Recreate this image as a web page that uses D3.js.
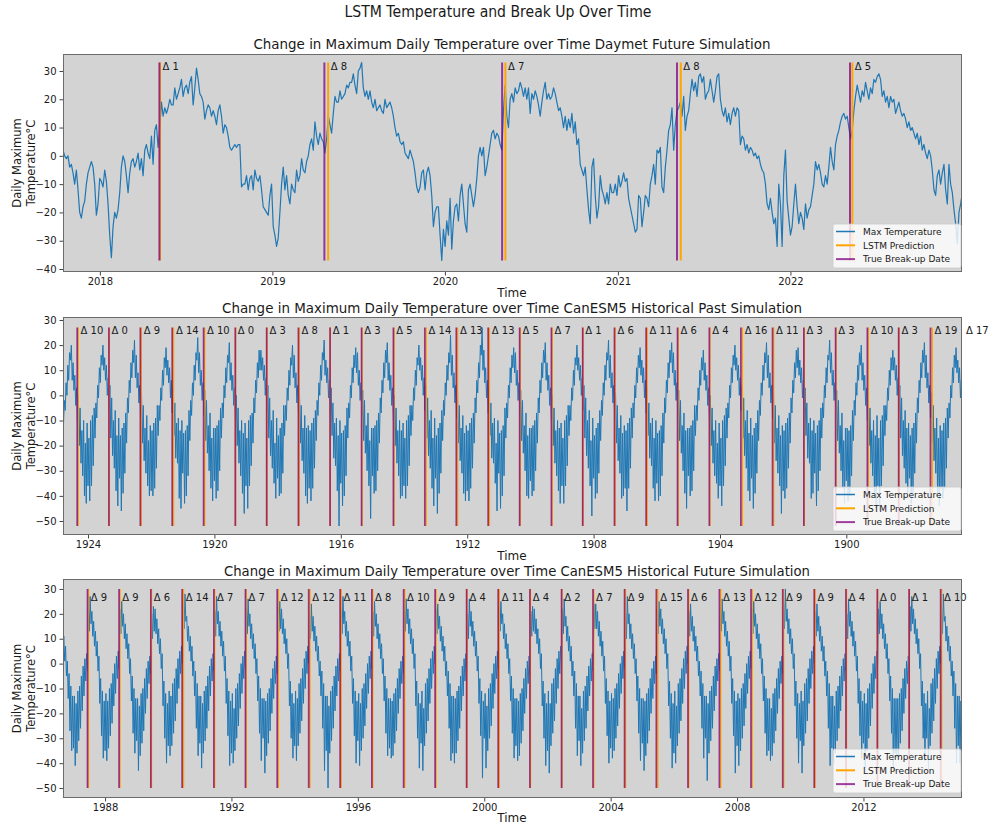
<!DOCTYPE html>
<html><head><meta charset="utf-8">
<script src="https://cdn.jsdelivr.net/npm/d3@7"></script>
<style>body{margin:0;background:#fff}</style>
</head><body>
<svg id="c" width="990" height="825"></svg>
<script>
// ---------------- DATA ----------------
const mainTitle = "LSTM Temperature and Break Up Over Time";
const panelTitles = [
  "Change in Maximum Daily Temperature over Time Daymet Future Simulation",
  "Change in Maximum Daily Temperature over Time CanESM5 Historical Past Simulation",
  "Change in Maximum Daily Temperature over Time CanESM5 Historical Future Simulation"
];
const legendLabels = ["Max Temperature", "LSTM Prediction", "True Break-up Date"];

// Panel 1: Daymet future, one value every 3.53 days from 2017-10-15
const daymetStart = "2017-10-15";
const daymetStepDays = 3.53;
const daymetTemps = [
2,0,-1,0,-4,-3,-6,-10,-5,-12,
-20,-22,-18,-16,-10,-6,-4,-2,-4,-10,
-21,-17,-8,-9,-11,-5,-9,-17,-28,-36,
-25,-20,-22,-19,-13,-4,0,-2,-7,-13,
-6,-2,-1,-4,-2,1,-5,-1,-7,2,
4,1,-1,7,-3,9,11,3,10,19,
14,17,15,17,20,18,18,24,20,22,
24,27,21,24,25,22,26,28,18,24,
31,27,22,21,19,13,16,18,17,14,
16,14,11,16,18,14,8,11,10,7,
3,2,3,4,3,4,4,-11,-10,-10,
-7,-12,-8,-7,-12,-5,-8,-9,-7,-12,
-18,-19,-20,-21,-14,-10,-25,-28,-32,-29,
-20,-10,-4,-12,-7,-14,-17,-10,-12,-13,
-5,-9,-7,-1,-5,-6,-2,0,4,6,
2,12,7,4,8,6,5,1,6,14,
11,8,15,21,19,19,23,20,21,22,
25,24,26,26,29,25,22,30,31,33,
24,21,23,20,23,19,17,20,16,17,
18,16,15,20,17,18,19,17,14,10,
7,8,5,4,5,1,0,-1,2,0,
-2,-6,-11,-13,-11,-6,-5,-12,-6,-4,
-7,-14,-25,-20,-18,-18,-28,-37,-26,-32,
-23,-28,-15,-33,-23,-18,-17,-23,-14,-10,
-17,-24,-27,-12,-10,-14,-18,-14,-8,0,
3,0,3,-7,-4,0,4,8,9,6,
8,7,
4,2,16,25,14,10,20,22,19,24,
22,23,26,24,21,24,20,24,15,22,
20,23,21,18,14,19,23,26,20,22,
20,21,24,22,19,16,17,14,10,14,
9,13,10,15,8,12,4,6,-3,-5,
-7,-4,-12,-19,-24,-4,-1,-14,-22,-18,
-7,-12,-14,-17,-13,-17,-10,-13,-13,-10,
-14,-7,-11,-9,-6,-9,-8,-15,-18,-21,
-24,-27,-26,-14,-15,-25,-20,-14,-15,-18,
-10,-7,-3,-10,2,1,3,-11,-13,-4,
2,9,11,17,2,11,16,17,19,14,
21,9,14,16,22,27,23,26,21,28,
29,26,28,20,22,23,27,23,19,23,
28,29,20,16,14,17,12,15,11,15,
17,14,17,16,4,7,6,2,4,1,
3,2,0,1,-1,0,-3,-5,-6,-10,
-17,-19,-15,-20,-24,-22,-32,-10,-17,-32,
-7,2,-16,-22,-28,-25,-17,-10,-18,-24,
-20,-22,-26,-17,-22,-19,-18,-14,-10,-2,
-5,-3,-6,-10,-11,-7,-10,-4,3,-2,
-5,4,7,9,12,14,15,13,14,10,
6,9,16,21,25,22,19,23,21,26,
23,20,24,22,27,26,28,29,27,21,
23,19,21,17,21,19,20,15,17,19,
16,14,15,13,10,12,9,10,8,6,
8,4,7,2,4,1,-1,2,0,-5,
-12,-14,-7,-5,-10,-6,-3,-12,-17,-3,
-10,-13,-19,-24,-31,-20,-17,-13
];
const daymetTrue = ["2018-05-07","2019-04-21","2020-05-01","2021-05-06","2022-05-07"];
const daymetPred = ["2018-05-08","2019-04-29","2020-05-08","2021-05-14","2022-05-12"];
const daymetTickYears = [2018, 2019, 2020, 2021, 2022];
const daymetXLimits = ["2017-10-15", "2022-12-30"];
const daymetYLimits = [-41.06, 36.0];

// Panel 2: CanESM5 historical past, 36 values per year (every 10.14 days) from 1896-01-01
const pastStartYear = 1896;
const pastPerYear = 36;
const pastStepDays = 10.14;
const pastTemps = [
-32,-9,-40,-14,-36,-7,-28,-11,-22,-2,-16,3,-7,6,-1,11,5,14,9,19,11,16,5,11,-1,4,-9,-3,-17,-5,-29,-9,-37,-11,-41,-14,
-37,-12,-44,-17,-39,-9,-31,-13,-26,-4,-19,1,-9,4,-3,9,3,16,7,21,13,18,7,13,1,6,-7,-1,-19,-7,-31,-11,-39,-13,-43,-16,
-33,-11,-41,-13,-35,-6,-29,-10,-24,-1,-17,4,-6,7,0,12,6,15,10,18,10,15,4,10,-2,3,-10,-4,-16,-4,-28,-8,-36,-10,-46,-17,
-36,-8,-45,-16,-40,-10,-32,-14,-27,-5,-20,0,-10,3,-4,8,2,13,6,20,12,17,6,12,0,5,-8,-2,-18,-6,-32,-12,-40,-14,-42,-13,
-34,-13,-43,-18,-37,-7,-30,-12,-23,-2,-18,2,-8,5,-2,10,4,17,9,22,14,16,5,11,-1,4,-9,-3,-17,-5,-30,-10,-38,-12,-44,-15,
-31,-10,-39,-14,-41,-9,-27,-11,-25,-3,-16,3,-7,6,-1,11,5,14,8,19,11,18,7,13,1,6,-7,-1,-19,-7,-29,-9,-37,-11,-41,-14,
-38,-12,-47,-16,-36,-8,-31,-13,-26,-4,-19,1,-9,4,-3,9,3,16,7,21,13,17,6,12,0,5,-8,-2,-18,-6,-31,-11,-39,-13,-45,-16,
-33,-9,-42,-15,-38,-6,-29,-10,-24,-1,-17,4,-6,7,0,12,6,15,10,20,12,16,5,11,-1,4,-9,-3,-17,-5,-28,-8,-36,-10,-44,-17,
-36,-11,-41,-19,-35,-10,-32,-14,-27,-5,-20,0,-10,3,-4,8,2,13,6,18,10,15,4,10,-2,3,-10,-4,-16,-4,-30,-10,-38,-12,-40,-13,
-32,-13,-45,-14,-39,-7,-30,-12,-23,-2,-18,2,-8,5,-2,10,4,17,9,21,13,18,7,13,1,6,-7,-1,-19,-7,-32,-12,-40,-14,-42,-15,
-35,-10,-42,-17,-37,-9,-28,-11,-25,-3,-16,3,-7,6,-1,11,5,14,8,19,11,16,5,11,-1,4,-9,-3,-17,-5,-29,-9,-37,-11,-46,-14,
-37,-12,-40,-15,-41,-8,-31,-13,-26,-4,-19,1,-9,4,-3,9,3,16,7,22,14,17,6,12,0,5,-8,-2,-18,-6,-31,-11,-39,-13,-41,-16,
-33,-9,-48,-18,-36,-6,-29,-10,-24,-1,-17,4,-6,7,0,12,6,15,10,20,12,15,4,10,-2,3,-10,-4,-16,-4,-28,-8,-36,-10,-43,-17,
-36,-11,-43,-13,-38,-10,-32,-14,-27,-5,-20,0,-10,3,-4,8,2,13,6,21,13,18,7,13,1,6,-7,-1,-19,-7,-30,-10,-38,-12,-40,-13,
-34,-13,-41,-16,-40,-7,-30,-12,-23,-2,-18,2,-8,5,-2,10,4,17,9,19,11,16,5,11,-1,4,-9,-3,-17,-5,-32,-12,-40,-14,-45,-15,
-31,-10,-46,-19,-35,-9,-27,-11,-25,-3,-16,3,-7,6,-1,11,5,18,10,27,16,20,7,13,1,6,-7,-1,-19,-7,-29,-9,-37,-11,-42,-14,
-38,-12,-42,-15,-39,-8,-31,-13,-26,-4,-19,1,-9,4,-3,9,3,16,8,24,13,17,6,12,0,5,-8,-2,-18,-6,-31,-11,-39,-13,-47,-16,
-33,-9,-44,-17,-37,-6,-29,-10,-24,-1,-17,4,-6,7,0,12,6,15,10,20,12,15,4,10,-2,3,-10,-4,-16,-4,-28,-8,-36,-10,-41,-17,
-36,-11,-40,-14,-41,-10,-32,-14,-27,-5,-20,0,-10,3,-4,8,2,13,6,21,13,18,7,13,1,6,-7,-1,-19,-7,-30,-10,-38,-12,-39,-13,
-32,-13,-49,-18,-36,-7,-30,-12,-23,-2,-18,2,-8,5,-2,10,4,17,9,19,11,16,5,11,-1,4,-9,-3,-17,-5,-32,-12,-40,-14,-44,-15,
-35,-10,-52,-16,-38,-9,-28,-11,-25,-3,-16,3,-7,6,-1,11,5,14,8,22,14,17,6,12,0,5,-8,-2,-18,-6,-29,-9,-37,-11,-42,-14,
-37,-12,-43,-13,-40,-8,-31,-13,-26,-4,-19,1,-9,4,-3,9,3,16,7,20,12,15,4,10,-2,3,-10,-4,-16,-4,-31,-11,-39,-13,-40,-16,
-33,-9,-41,-19,-35,-6,-29,-10,-24,-1,-17,4,-6,7,0,12,6,15,10,18,10,18,7,13,1,6,-7,-1,-19,-7,-28,-8,-36,-10,-45,-17,
-36,-11,-47,-15,-39,-10,-32,-14,-27,-5,-20,0,-10,3,-4,8,2,13,6,21,13,16,5,11,-1,4,-9,-3,-17,-5,-30,-10,-38,-12,-41,-13,
-34,-13,-42,-17,-37,-7,-30,-12,-23,-2,-18,2,-8,5,-2,10,4,17,9,23,14,17,6,12,0,5,-8,-2,-18,-6,-32,-12,-40,-14,-43,-15,
-31,-10,-45,-14,-41,-9,-27,-11,-25,-3,-16,3,-7,6,-1,11,5,14,8,19,11,15,4,10,-2,3,-10,-4,-16,-4,-29,-9,-37,-11,-40,-14,
-38,-12,-40,-18,-36,-8,-31,-13,-26,-4,-19,1,-9,4,-3,9,3,16,7,22,13,18,7,13,1,6,-7,-1,-19,-7,-31,-11,-39,-13,-46,-16,
-33,-9,-44,-16,-38,-6,-29,-10,-24,-1,-17,4,-6,7,0,12,6,15,10,20,12,16,5,11,-1,4,-9,-3,-17,-5,-28,-8,-36,-10,-42,-17,
-36,-11,-43,-19,-40,-10,-32,-14,-27,-5,-20,0,-10,3,-4,8,2,13,6,20,14,17,6,12,0,5,-6,-2,-12,-6,-20,-10,-30,-12,-35,-13
];
const pastTrue = ["1896-05-05","1897-05-04","1898-05-06","1899-05-03","1900-05-05","1901-05-07","1902-05-04","1903-05-05","1904-05-03","1905-05-06","1906-05-04","1907-05-05","1908-05-06","1909-05-03","1910-05-05","1911-05-04","1912-05-06","1913-05-05","1914-05-03","1915-05-06","1916-05-04","1917-05-05","1918-05-07","1919-05-04","1920-05-05","1921-05-03","1922-05-06","1923-05-04","1924-05-05"];
const pastPred = ["1896-04-18","1897-04-15","1898-05-03","1899-04-23","1900-05-02","1901-05-04","1902-04-23","1903-04-19","1904-04-29","1905-04-30","1906-04-23","1907-04-29","1908-05-05","1909-04-26","1910-04-30","1911-04-21","1912-04-23","1913-04-21","1914-04-28","1915-05-03","1916-05-03","1917-04-27","1918-05-04","1919-05-04","1920-04-25","1921-04-19","1922-04-27","1923-05-04","1924-04-25"];
const pastTickYears = [1924, 1920, 1916, 1912, 1908, 1904, 1900];
const pastXLimits = ["1924-10-16", "1896-05-04"];
const pastYLimits = [-55.57, 31.19];

// Panel 3: CanESM5 historical future, 36 values per year (every 10.14 days) from 1986-01-01
const futStartYear = 1986;
const futPerYear = 36;
const futStepDays = 10.14;
const futTemps = [
-30,-11,-38,-14,-33,-9,-28,-7,-23,-3,-16,1,-11,4,-5,6,-1,21,11,24,14,19,9,15,5,11,1,7,-5,1,-14,-4,-27,-9,-35,-13,
-34,-13,-41,-16,-36,-11,-31,-9,-26,-5,-19,-1,-13,2,-7,4,-3,23,13,27,16,21,11,17,7,13,3,9,-3,3,-16,-6,-29,-11,-38,-15,
-35,-12,-39,-15,-34,-10,-29,-8,-24,-4,-17,0,-12,3,-6,5,-2,22,12,25,15,20,10,16,6,12,2,8,-4,2,-15,-5,-28,-10,-36,-14,
-31,-14,-43,-17,-37,-12,-32,-10,-27,-6,-20,-2,-14,1,-8,3,-4,20,10,23,13,22,12,18,8,14,4,10,-2,4,-17,-7,-30,-12,-40,-16,
-33,-11,-37,-13,-33,-8,-28,-6,-23,-2,-16,2,-10,5,-4,7,0,24,14,28,17,19,9,15,5,11,1,7,-5,1,-13,-3,-26,-8,-37,-13,
-32,-13,-42,-16,-36,-11,-31,-9,-26,-5,-19,-1,-13,2,-7,4,-3,21,11,27,16,21,11,17,7,13,3,9,-3,3,-16,-6,-29,-11,-41,-15,
-36,-12,-40,-18,-35,-10,-30,-8,-25,-4,-18,0,-12,3,-6,5,-2,22,12,26,15,20,10,16,6,12,2,8,-4,2,-15,-5,-28,-10,-39,-14,
-30,-14,-44,-15,-37,-12,-32,-10,-27,-6,-20,-2,-14,1,-8,3,-4,23,13,25,14,22,12,18,8,14,4,10,-2,4,-17,-7,-30,-12,-38,-16,
-33,-11,-39,-14,-33,-8,-28,-6,-23,-2,-16,2,-10,5,-4,7,0,20,10,24,13,19,9,15,5,11,1,7,-5,1,-13,-3,-26,-8,-43,-13,
-35,-13,-50,-17,-36,-11,-31,-9,-26,-5,-19,-1,-13,2,-7,4,-3,22,12,27,16,21,11,17,7,13,3,9,-3,3,-16,-6,-29,-11,-40,-15,
-31,-12,-41,-16,-35,-10,-30,-8,-25,-4,-18,0,-12,3,-6,5,-2,21,11,25,15,20,10,16,6,12,2,8,-4,2,-15,-5,-28,-10,-37,-14,
-34,-14,-38,-15,-37,-12,-32,-10,-27,-6,-20,-2,-14,1,-8,3,-4,23,13,26,16,22,12,18,8,14,4,10,-2,4,-17,-7,-30,-12,-42,-16,
-32,-11,-43,-18,-33,-8,-28,-6,-23,-2,-16,2,-10,5,-4,7,0,22,12,24,14,19,9,15,5,11,1,7,-5,1,-13,-3,-26,-8,-39,-13,
-36,-13,-40,-14,-36,-11,-31,-9,-26,-5,-19,-1,-13,2,-7,4,-3,20,10,26,15,21,11,17,7,13,3,9,-3,3,-16,-6,-29,-11,-46,-15,
-30,-12,-42,-17,-35,-10,-30,-8,-25,-4,-18,0,-12,3,-6,5,-2,23,13,25,16,20,10,16,6,12,2,8,-4,2,-15,-5,-28,-10,-38,-14,
-33,-14,-39,-15,-37,-12,-32,-10,-27,-6,-20,-2,-14,1,-8,3,-4,21,11,23,13,22,12,18,8,14,4,10,-2,4,-17,-7,-30,-12,-41,-16,
-35,-11,-44,-16,-33,-8,-28,-6,-23,-2,-16,2,-10,5,-4,7,0,22,12,26,15,19,9,15,5,11,1,7,-5,1,-13,-3,-26,-8,-37,-13,
-31,-13,-41,-18,-36,-11,-31,-9,-26,-5,-19,-1,-13,2,-7,4,-3,24,14,24,14,21,11,17,7,13,3,9,-3,3,-16,-6,-29,-11,-40,-15,
-34,-12,-38,-14,-35,-10,-30,-8,-25,-4,-18,0,-12,3,-6,5,-2,20,10,27,16,20,10,16,6,12,2,8,-4,2,-15,-5,-28,-10,-39,-14,
-32,-14,-43,-15,-37,-12,-32,-10,-27,-6,-20,-2,-14,1,-8,3,-4,22,12,25,15,22,12,18,8,14,4,10,-2,4,-17,-7,-30,-12,-42,-16,
-36,-11,-40,-17,-33,-8,-28,-6,-23,-2,-16,2,-10,5,-4,7,0,21,11,24,13,19,9,15,5,11,1,7,-5,1,-13,-3,-26,-8,-38,-13,
-30,-13,-47,-16,-36,-11,-31,-9,-26,-5,-19,-1,-13,2,-7,4,-3,23,13,26,16,21,11,17,7,13,3,9,-3,3,-16,-6,-29,-11,-44,-15,
-33,-12,-41,-14,-35,-10,-30,-8,-25,-4,-18,0,-12,3,-6,5,-2,22,12,25,15,20,10,16,6,12,2,8,-4,2,-15,-5,-28,-10,-37,-14,
-35,-14,-39,-18,-37,-12,-32,-10,-27,-6,-20,-2,-14,1,-8,3,-4,24,14,30,17,22,12,18,8,14,4,10,-2,4,-17,-7,-30,-12,-40,-16,
-31,-11,-44,-15,-33,-8,-28,-6,-23,-2,-16,2,-10,5,-4,7,0,21,11,24,13,19,9,15,5,11,1,7,-5,1,-13,-3,-26,-8,-41,-13,
-34,-13,-40,-17,-36,-11,-31,-9,-26,-5,-19,-1,-13,2,-7,4,-3,20,10,26,15,21,11,17,7,13,3,9,-3,3,-16,-6,-29,-11,-38,-15,
-32,-12,-42,-16,-35,-10,-30,-8,-25,-4,-18,0,-12,3,-6,5,-2,22,12,25,14,20,10,16,6,12,2,8,-4,2,-15,-5,-28,-10,-43,-14,
-36,-14,-38,-14,-37,-12,-32,-10,-27,-6,-20,-2,-14,1,-8,3,-4,23,13,27,16,22,12,18,8,14,4,10,-2,4,-17,-7,-30,-12,-39,-16,
-30,-11,-43,-18,-33,-8,-28,-6,-23,-2,-16,2,-10,5,-4,7,0,22,12,28,17,19,9,15,5,11,1,7,-5,1,-13,-3,-26,-8,-40,-13,
-33,-13,-40,-15,-36,-11,-31,-9,-26,-5,-19,-1,-13,2,-7,4,-3,21,11,24,14,21,11,17,7,13,3,9,-3,3,-16,-6,-29,-11,-37,-15
];
const futTrue = ["1987-06-12","1988-06-11","1989-06-13","1990-06-10","1991-06-12","1992-06-11","1993-06-13","1994-06-12","1995-06-10","1996-06-11","1997-06-13","1998-06-12","1999-06-11","2000-06-10","2001-06-12","2002-06-13","2003-06-11","2004-06-10","2005-06-12","2006-06-13","2007-06-11","2008-06-10","2009-06-12","2010-06-11","2011-06-13","2012-06-10","2013-06-12","2014-06-11"];
const futPred = ["1987-06-21","1988-06-20","1989-06-19","1990-06-24","1991-06-19","1992-06-18","1993-06-25","1994-06-24","1995-06-21","1996-06-19","1997-06-23","1998-06-21","1999-06-15","2000-06-21","2001-06-16","2002-06-15","2003-06-18","2004-06-19","2005-06-27","2006-06-19","2007-06-24","2008-06-22","2009-06-21","2010-06-20","2011-06-17","2012-06-10","2013-06-13","2014-06-21"];
const futTickYears = [1988, 1992, 1996, 2000, 2004, 2008, 2012];
const futXLimits = ["1986-09-02", "2015-02-13"];
const futYLimits = [-54.0, 34.0];

const yTicks = {daymet: [30,20,10,0,-10,-20,-30,-40], canesm: [30,20,10,0,-10,-20,-30,-40,-50]};

// ---------------- DRAWING ----------------
const FONT = '"DejaVu Sans", sans-serif';
const C = {blue:"#1f77b4", orange:"#ffa500", purple:"#800080", bg:"#d3d3d3", spine:"#6b6b6b", text:"#1a1a1a"};
const svg = d3.select("#c");
const parse = s => { const [y,m,d] = s.split("-").map(Number); return new Date(Date.UTC(y, m-1, d)); };
const DAY = 86400000;

function txt(g, s, x, y, o={}) {
  const t = g.append("text").attr("x", x).attr("y", y).text(s)
    .attr("font-family", FONT).attr("font-size", o.size || 10)
    .attr("fill", o.fill || C.text).attr("text-anchor", o.anchor || "start");
  if (o.len) t.attr("textLength", o.len).attr("lengthAdjust", "spacingAndGlyphs");
  if (o.rotate) t.attr("transform", `rotate(${o.rotate},${x},${y})`);
  return t;
}

txt(svg, mainTitle, 498, 17, {size:15, anchor:"middle", len:307});

function series(startMs, stepDays, vals) {
  return vals.map((v, i) => ({t: new Date(startMs + i * stepDays * DAY), v}));
}
function yearlySeries(startYear, perYear, stepDays, vals) {
  return vals.map((v, i) => {
    const yr = startYear + Math.floor(i / perYear), k = i % perYear;
    return {t: new Date(Date.UTC(yr, 0, 1) + k * stepDays * DAY), v};
  });
}

function panel(cfg, idx) {
  const g = svg.append("g");
  const L = 63, R = 962, T = cfg.top, B = cfg.bottom;
  const x = d3.scaleUtc().domain(cfg.xlim.map(parse)).range([L, R]);
  const y = d3.scaleLinear().domain(cfg.ylim).range([B, T]);

  g.append("rect").attr("x", L).attr("y", T).attr("width", R-L).attr("height", B-T).attr("fill", C.bg);
  const cid = "clip" + idx;
  g.append("clipPath").attr("id", cid).append("rect").attr("x", L).attr("y", T).attr("width", R-L).attr("height", B-T);
  const pg = g.append("g").attr("clip-path", `url(#${cid})`);

  pg.append("path").datum(cfg.data)
    .attr("d", d3.line().x(d => x(d.t)).y(d => y(d.v)))
    .attr("fill", "none").attr("stroke", C.blue).attr("stroke-width", cfg.lw).attr("stroke-linejoin", "round");

  const ext = d3.extent(cfg.data, d => d.v);
  const trueD = cfg.trueDates.map(parse), predD = cfg.predDates.map(parse);
  pg.selectAll(".pred").data(predD).join("line")
    .attr("x1", d => x(d)).attr("x2", d => x(d)).attr("y1", y(ext[0])).attr("y2", y(ext[1]))
    .attr("stroke", C.orange).attr("stroke-width", cfg.vw);
  pg.selectAll(".true").data(trueD).join("line")
    .attr("x1", d => x(d)).attr("x2", d => x(d)).attr("y1", y(ext[0])).attr("y2", y(ext[1]))
    .attr("stroke", C.purple).attr("stroke-opacity", 0.75).attr("stroke-width", cfg.vw);

  trueD.forEach((td, i) => {
    const pd = predD[i];
    const delta = Math.round(Math.abs(pd - td) / DAY);
    const px = Math.max(x(td), x(pd)) + 2.5;
    txt(g, "\u0394 " + delta, px, y(ext[1]) + cfg.labelDy, {size:10});
  });

  g.append("rect").attr("x", L+0.5).attr("y", T+0.5).attr("width", R-L-1).attr("height", B-T-1)
    .attr("fill", "none").attr("stroke", C.spine).attr("stroke-width", 1);

  const ya = g.append("g").attr("transform", `translate(${L},0)`)
    .call(d3.axisLeft(y).tickValues(cfg.yticks).tickSize(3.5).tickPadding(3).tickFormat(d3.format("d")));
  ya.select(".domain").remove();
  ya.selectAll("line").attr("stroke", "#444");
  ya.selectAll("text").attr("font-family", FONT).attr("font-size", 10).attr("fill", C.text);

  const xa = g.append("g").attr("transform", `translate(0,${B})`)
    .call(d3.axisBottom(x).tickValues(cfg.xticks.map(yr => new Date(Date.UTC(yr,0,1))))
      .tickSize(3.5).tickPadding(2.5).tickFormat(d3.utcFormat("%Y")));
  xa.select(".domain").remove();
  xa.selectAll("line").attr("stroke", "#444");
  xa.selectAll("text").attr("font-family", FONT).attr("font-size", 10).attr("fill", C.text);

  txt(g, cfg.title, cfg.titleX, T - cfg.titleGap, {size:13.5, anchor:"middle", len:cfg.titleLen});
  txt(g, "Time", 512, B + cfg.timeDy, {size:12, anchor:"middle"});
  const cy = (T + B) / 2;
  txt(g, "Daily Maximum", 21, cy, {size:11.5, anchor:"middle", rotate:-90});
  txt(g, "Temperature\u00B0C", 35, cy, {size:11.5, anchor:"middle", rotate:-90});

  const lg = g.append("g").attr("transform", `translate(833,${cfg.legendTop})`);
  lg.append("rect").attr("width", 128).attr("height", 44).attr("rx", 2)
    .attr("fill", "#fff").attr("fill-opacity", 0.8).attr("stroke", "#cccccc").attr("stroke-width", 0.8);
  const sw = [[C.blue, 1.5, 1], [C.orange, 2, 1], [C.purple, 2, 0.75]];
  legendLabels.forEach((lab, i) => {
    const ly = 7.5 + i * 13.8;
    lg.append("line").attr("x1", 3).attr("x2", 22).attr("y1", ly).attr("y2", ly)
      .attr("stroke", sw[i][0]).attr("stroke-width", sw[i][1]).attr("stroke-opacity", sw[i][2]);
    txt(lg, lab, 30, ly + 3.3, {size:9});
  });
}

panel({
  top:54, bottom:272, xlim:daymetXLimits, ylim:daymetYLimits,
  data: series(parse(daymetStart).getTime(), daymetStepDays, daymetTemps),
  trueDates:daymetTrue, predDates:daymetPred, xticks:daymetTickYears, yticks:yTicks.daymet,
  lw:1.2, vw:2, labelDy:7.7, title:panelTitles[0], titleX:512, titleLen:517, titleGap:5, legendTop:224, timeDy:25
}, 0);

panel({
  top:317, bottom:535, xlim:pastXLimits, ylim:pastYLimits,
  data: yearlySeries(pastStartYear, pastPerYear, pastStepDays, pastTemps),
  trueDates:pastTrue, predDates:pastPred, xticks:pastTickYears, yticks:yTicks.canesm,
  lw:1, vw:1.7, labelDy:6.7, title:panelTitles[1], titleX:512, titleLen:580, titleGap:4, legendTop:487, timeDy:25
}, 1);

panel({
  top:579, bottom:798, xlim:futXLimits, ylim:futYLimits,
  data: yearlySeries(futStartYear, futPerYear, futStepDays, futTemps),
  trueDates:futTrue, predDates:futPred, xticks:futTickYears, yticks:yTicks.canesm,
  lw:1, vw:1.7, labelDy:12.4, title:panelTitles[2], titleX:517, titleLen:586, titleGap:3, legendTop:749, timeDy:24
}, 2);
</script>
</body></html>
